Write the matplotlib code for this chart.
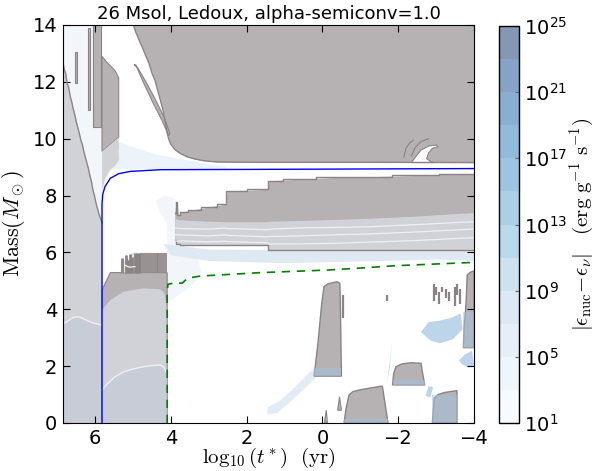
import numpy as np
import matplotlib
matplotlib.use("Agg")
import matplotlib.pyplot as plt
from matplotlib import colors as mcolors
from matplotlib.cm import ScalarMappable
from matplotlib.ticker import LogFormatterMathtext

plt.rcParams['mathtext.fontset'] = 'cm'
plt.rcParams['font.family'] = ['DejaVu Sans']

# ------------------------------------------------------------------ data
title = "26 Msol, Ledoux, alpha-semiconv=1.0"
x_ticks = [6, 4, 2, 0, -2, -4]
y_ticks = [0, 2, 4, 6, 8, 10, 12, 14]
eps_level_exp = [1, 3, 5, 7, 9, 11, 13, 15, 17, 19, 21, 23, 25]
eps_tick_exp = [1, 5, 9, 13, 17, 21, 25]

# helium core boundary (blue line)
he_core_t = [5.82, 5.82, 5.80, 5.74, 5.60, 5.38, 5.07, 4.28, 2.0, 0.0, -2.0, -4.0]
he_core_m = [0.0, 7.70, 8.05, 8.32, 8.61, 8.77, 8.85, 8.91, 8.92, 8.93, 8.94, 8.95]

# C/O core boundary (green dashed)
co_core_t = [4.10, 4.10, 4.08, 3.97, 3.70, 3.57, 3.22, 1.63, -0.13, -1.0, -1.88, -4.0]
co_core_m = [0.0, 4.60, 4.88, 4.91, 4.92, 5.09, 5.17, 5.29, 5.38, 5.45, 5.53, 5.65]

# main-sequence convective core
ms_core_t = [6.85, 6.82, 6.78, 6.74, 6.70, 6.66, 6.62, 6.58, 6.54, 6.50, 6.46, 6.42, 6.38,
             6.34, 6.30, 6.26, 6.22, 6.18, 6.14, 6.10, 6.06, 6.02, 5.98, 5.94, 5.90, 5.86, 5.82]
ms_core_top = [12.7, 12.45, 12.3, 11.95, 11.8, 11.5, 11.3, 11.05, 10.85, 10.6, 10.4, 10.2, 9.95,
               9.8, 9.55, 9.35, 9.15, 8.95, 8.7, 8.5, 8.2, 8.0, 7.75, 7.55, 7.35, 7.2, 7.05]
ms_line_t = [6.85, 6.75, 6.65, 6.55, 6.48, 6.40, 6.30, 6.20, 6.10, 6.00, 5.90, 5.82]
ms_line_m = [3.50, 3.56, 3.66, 3.72, 3.74, 3.72, 3.66, 3.60, 3.54, 3.50, 3.47, 3.45]

# thin convective streaks above the MS core: (t_left, t_right, m_bottom, m_top)
streak_t0 = [6.53, 6.20, 6.05]
streak_t1 = [6.48, 6.15, 5.85]
streak_m0 = [11.95, 11.0, 10.4]
streak_m1 = [13.05, 13.9, 14.0]

# post-MS envelope pocket
pocket_t = [5.82, 5.70, 5.55, 5.47, 5.38, 5.38, 5.82]
pocket_m = [12.9, 12.7, 12.5, 12.38, 12.14, 10.05, 9.55]
pocket_lt_t = [5.82, 5.38, 5.37, 5.36, 5.45, 5.60, 5.72, 5.82]
pocket_lt_m = [9.55, 10.05, 9.6, 9.25, 9.05, 8.9, 8.6, 8.14]

# outer convective envelope (lower boundary)
env_t = [4.99, 4.93, 4.88, 4.81, 4.75, 4.66, 4.58, 4.50, 4.42, 4.35, 4.28, 4.20,
         4.14, 4.10, 4.05, 4.00, 3.90, 3.75, 3.57, 3.35, 3.10, 2.77, 1.5, 0.0, -1.5, -4.0]
env_m = [14.0, 13.75, 13.6, 13.37, 13.2, 12.9, 12.65, 12.3, 12.05, 11.7, 11.36, 10.95,
         10.5, 10.2, 9.95, 9.8, 9.62, 9.48, 9.36, 9.28, 9.22, 9.18, 9.17, 9.17, 9.17, 9.16]
sliver_t = [4.97, 4.93, 4.70, 4.45, 4.22, 4.06, 4.03, 4.18, 4.40, 4.66, 4.88]
sliver_m = [12.6, 12.6, 11.9, 11.2, 10.6, 10.1, 10.2, 10.75, 11.35, 12.0, 12.5]
notch_t = [-2.35, -2.45, -2.6, -2.8, -3.0, -3.05, -2.9, -2.8, -2.75, -2.85, -2.95]
notch_m = [9.16, 9.35, 9.6, 9.74, 9.78, 9.72, 9.66, 9.5, 9.3, 9.2, 9.16]
arc1_t = [-2.15, -2.2, -2.3, -2.4]
arc1_m = [9.35, 9.65, 9.85, 9.95]
arc2_t = [-2.35, -2.45, -2.6, -2.8]
arc2_m = [9.4, 9.7, 9.9, 10.0]

# core helium burning convective core
heb_t = [5.82, 5.82, 5.60, 4.10, 4.10]
heb_m = [0.0, 4.68, 5.29, 5.29, 0.0]
heb_lt_t = [5.82, 5.82, 5.60, 5.25, 4.72, 4.28, 4.17, 4.12, 4.12]
heb_lt_m = [0.0, 3.97, 4.33, 4.62, 4.74, 4.70, 4.56, 4.09, 0.0]
heb_in_t = [5.82, 5.70, 5.50, 5.25, 5.00, 4.72, 4.50, 4.28, 4.18, 4.13]
heb_in_m = [1.16, 1.35, 1.60, 1.80, 1.90, 1.98, 2.02, 2.04, 1.95, 1.80]
teeth_t = [5.30, 5.27, 5.22, 5.18, 5.12, 5.06, 5.00, 4.10, 4.10, 5.30]
teeth_m = [5.55, 5.85, 5.70, 5.95, 5.75, 5.97, 5.99, 5.99, 5.29, 5.29]
tooth_pos = [4.78, 4.73, 4.68, 4.63, 4.58, 4.53, 4.48, 4.43, 4.38, 4.33, 4.28, 4.23, 4.18, 4.13]
tooth_left_t = [5.28, 5.20, 5.14, 5.08, 5.02, 4.96, 4.90, 4.84]
tooth_left_m = [5.80, 5.92, 5.72, 5.95, 5.85, 5.97, 5.99, 5.99]

# convective shell above the C/O core
shell_t = [3.90, 3.86, 3.80, 3.72, 3.40, 3.00, 2.56, 2.52, 1.46, 1.41, 0.66, -0.30, -1.19, -2.5, -3.66, -4.0]
shell_top = [7.40, 7.78, 7.30, 7.43, 7.50, 7.60, 7.70, 8.16, 8.22, 8.52, 8.57, 8.64, 8.66, 8.71, 8.76, 8.76]
shell_mid = [7.10, 7.20, 7.15, 7.15, 7.12, 7.10, 7.08, 7.08, 7.08, 7.10, 7.12, 7.16, 7.20, 7.28, 7.38, 7.40]
shell_bot = [6.45, 6.30, 6.28, 6.26, 6.26, 6.26, 6.26, 6.26, 6.26, 6.09, 6.09, 6.09, 6.09, 6.09, 6.09, 6.09]
shell_l1 = [6.85, 6.85, 6.85, 6.84, 6.83, 6.82, 6.86, 6.84, 6.80, 6.82, 6.86, 6.88, 6.90, 6.98, 7.06, 7.08]
shell_l2 = [6.62, 6.62, 6.62, 6.61, 6.60, 6.58, 6.62, 6.60, 6.55, 6.56, 6.58, 6.62, 6.65, 6.72, 6.80, 6.82]
shell_l3 = [6.40, 6.40, 6.40, 6.40, 6.39, 6.37, 6.40, 6.38, 6.34, 6.30, 6.30, 6.32, 6.36, 6.42, 6.50, 6.52]

# carbon burning region blobs
blob1_t = [0.22, 0.12, 0.02, -0.04, -0.15, -0.39, -0.46, -0.48, -0.50]
blob1_m = [1.65, 2.80, 4.20, 4.80, 4.90, 4.97, 4.91, 3.50, 1.65]
blob2_t = [-1.85, -1.88, -1.94, -2.10, -2.33, -2.60, -2.65, -2.70]
blob2_m = [1.34, 1.75, 1.98, 2.08, 2.12, 2.10, 1.70, 1.34]
blob3_t = [-0.57, -0.62, -0.70, -0.80, -0.97, -1.30, -1.58, -1.65, -1.73]
blob3_m = [0.0, 0.50, 0.98, 1.10, 1.16, 1.24, 1.30, 0.70, 0.0]
blob4_t = [-2.90, -2.93, -2.95, -3.05, -3.21, -3.55, -3.55]
blob4_m = [0.0, 0.50, 0.87, 1.00, 1.07, 1.14, 0.0]
blob5_t = [-3.72, -3.74, -3.78, -3.80, -3.82, -3.90, -4.00, -4.00]
blob5_m = [2.65, 3.40, 4.00, 4.50, 5.20, 5.30, 5.35, 2.65]
spike_t = [-0.05, -0.10, -0.13, -0.40, -0.45, -0.50]
spike_m = [0.0, 0.45, 0.0, 0.45, 0.92, 0.45]
speck_t = [-2.95, -3.0, -3.08, -3.15, -3.25, -3.35, -3.5, -3.55, -3.62, -0.55, -1.70]
speck_m0 = [4.3, 4.5, 4.2, 4.6, 4.4, 4.3, 4.1, 4.5, 4.2, 3.7, 4.3]
speck_m1 = [4.9, 4.8, 4.6, 4.8, 4.7, 4.6, 4.8, 4.9, 4.7, 4.5, 4.5]

# faint energy-generation areas
ms_env_blue_t = [6.85, 5.82, 5.82, 6.85]
ms_env_blue_m = [12.7, 7.05, 14.0, 14.0]
hshell_blue_t = [5.82, 5.50, 5.00, 4.40, 3.80, 3.20, 2.60, 2.40, 3.50, 4.50, 5.82]
hshell_blue_m = [10.2, 9.95, 9.70, 9.45, 9.30, 9.15, 9.02, 8.93, 8.93, 8.93, 8.93]
heshell_blue_t = [4.10, 4.10, 4.30, 4.40, 4.20, 3.90, 3.75, 3.60, 3.30, 3.20, 3.40, 3.80]
heshell_blue_m = [4.20, 7.00, 7.40, 7.80, 8.00, 7.90, 7.40, 6.20, 5.80, 5.30, 4.90, 4.50]
band_blue_t = [4.20, 3.00, 1.0, -1.0, -3.0, -4.0, -4.0, -3.0, -1.0, 1.0, 3.0, 4.0]
band_blue_m = [6.30, 6.10, 6.08, 6.08, 6.08, 6.08, 5.70, 5.75, 5.68, 5.62, 5.70, 5.90]
tend1_t = [1.45, 1.20, 0.80, 0.40, 0.10, -0.10, 0.00, 0.25, 0.70, 1.10, 1.45]
tend1_m = [0.30, 0.35, 0.80, 1.30, 1.70, 2.05, 2.20, 1.90, 1.30, 0.80, 0.55]
tend2_t = [-1.70, -1.78, -1.85, -1.80, -1.74]
tend2_m = [1.35, 2.00, 3.05, 2.40, 1.80]
tend3_t = [-2.60, -2.80, -3.10, -3.40, -3.65, -3.70, -3.45, -3.10, -2.85]
tend3_m = [3.20, 3.55, 3.60, 3.70, 3.85, 3.30, 2.95, 2.80, 2.90]
tend4_t = [-3.60, -3.75, -3.95, -4.0, -3.85, -3.70]
tend4_m = [2.20, 2.40, 2.55, 2.00, 1.95, 2.05]
tend5_t = [-2.72, -2.80, -2.92, -2.85]
tend5_m = [0.95, 1.30, 1.25, 0.90]

# ------------------------------------------------------------------ styles
GRAY = '#b6b1b2'
EDGE = '#8b8383'
LIGHT = '#d1d2d8'
LIGHTB = '#c8ccd6'
WLINE = '#eef0f5'
FAINT = '#f2f6fb'
BLUE1 = '#dfe9f4'
BLUE2 = '#bcd5ea'
BLUE3 = '#a3c1dc'

fig = plt.figure(figsize=(5.97, 4.71), dpi=100)
ax = fig.add_axes([63 / 597, 1 - 423 / 471, 411 / 597, 398 / 471])

# faint energy generation
ax.fill(ms_env_blue_t, ms_env_blue_m, color=FAINT, lw=0)
ax.fill(hshell_blue_t, hshell_blue_m, color='#edf3fa', lw=0)
ax.fill(heshell_blue_t, heshell_blue_m, color=FAINT, lw=0)
ax.fill(band_blue_t, band_blue_m, color=BLUE1, lw=0)
ax.fill(tend1_t, tend1_m, color='#e2ecf6', lw=0)
for tt, mm in [(tend2_t, tend2_m), (tend3_t, tend3_m), (tend4_t, tend4_m), (tend5_t, tend5_m)]:
    ax.fill(tt, mm, color=BLUE2, lw=0)

# main sequence core
ax.fill_between(ms_core_t, 0, ms_core_top, color=LIGHT, lw=0)
ax.fill_between(ms_line_t, 0, ms_line_m, color=LIGHTB, lw=0)
ax.plot(ms_line_t, ms_line_m, color=WLINE, lw=1.0)
ax.plot(ms_core_t, ms_core_top, color=EDGE, lw=1.0)

for a, b, c, d in zip(streak_t0, streak_t1, streak_m0, streak_m1):
    ax.fill([a, b, b, a], [c, c, d, d], color=GRAY, ec=EDGE, lw=0.8)

ax.fill(pocket_t, pocket_m, color=GRAY, ec=EDGE, lw=0.8)
ax.fill(pocket_lt_t, pocket_lt_m, color=LIGHT, lw=0)
ax.plot(pocket_lt_t[2:], pocket_lt_m[2:], color=WLINE, lw=0.8)

# outer envelope
ax.fill_between(env_t, env_m, 14.0, color=GRAY, lw=0)
ax.plot(env_t, env_m, color=EDGE, lw=1.0)
ax.fill(sliver_t, sliver_m, color=GRAY, ec=EDGE, lw=0.8)
ax.fill(notch_t, notch_m, color='white', ec=EDGE, lw=0.8)
ax.plot(arc1_t, arc1_m, color=EDGE, lw=0.8)
ax.plot(arc2_t, arc2_m, color=EDGE, lw=0.8)

# core He burning
ax.fill(heb_t, heb_m, color=GRAY, ec=EDGE, lw=0.8)
ax.fill(heb_lt_t, heb_lt_m, color=LIGHT, lw=0)
ax.fill_between(heb_in_t, 0, heb_in_m, color=LIGHTB, lw=0)
ax.plot(heb_in_t, heb_in_m, color=WLINE, lw=1.0)
ax.fill(teeth_t, teeth_m, color='#e4e1e1', lw=0)
ax.vlines(tooth_pos, 5.29, 5.99, color=EDGE, lw=1.2)
ax.vlines(tooth_left_t, 5.29, tooth_left_m, color=EDGE, lw=2.0)
ax.plot([5.22, 5.10, 4.95], [5.55, 5.48, 5.50], color='white', lw=0.8)

# shell
ax.fill_between(shell_t, shell_bot, shell_top, color=GRAY, lw=0)
ax.fill_between(shell_t, shell_bot, shell_mid, color=LIGHT, lw=0)
ax.plot(shell_t, shell_top, color=EDGE, lw=1.0, drawstyle='steps-mid')
ax.plot(shell_t, shell_bot, color=EDGE, lw=1.0, drawstyle='steps-mid')
for ln in (shell_l1, shell_l2, shell_l3):
    ax.plot(shell_t, ln, color=WLINE, lw=0.9)

# carbon burning blobs
for tt, mm in [(blob1_t, blob1_m), (blob2_t, blob2_m), (blob3_t, blob3_m),
               (blob4_t, blob4_m), (blob5_t, blob5_m)]:
    ax.fill(tt, mm, color=GRAY, ec=EDGE, lw=1.0)
ax.fill_between([0.22, -0.50], 1.65, 1.95, color=BLUE3, alpha=0.6, lw=0)
ax.fill_between([-1.85, -2.70], 1.34, 1.50, color=BLUE3, alpha=0.6, lw=0)
ax.fill_between([-0.57, -1.73], 0.0, 0.15, color=BLUE3, alpha=0.6, lw=0)
ax.fill_between([-2.90, -3.55], 0.0, 1.0, color=BLUE3, alpha=0.55, lw=0)
ax.fill_between([-3.72, -4.0], 2.65, 3.9, color=BLUE3, alpha=0.55, lw=0)
ax.fill(spike_t[:3], spike_m[:3], color=GRAY, ec=EDGE, lw=0.8)
ax.fill(spike_t[3:], spike_m[3:], color=GRAY, ec=EDGE, lw=0.8)
ax.vlines(speck_t, speck_m0, speck_m1, color=EDGE, lw=1.6)

# core boundaries
ax.plot(he_core_t, he_core_m, color='#0000ff', lw=1.0)
ax.plot(co_core_t, co_core_m, color='#008000', lw=1.2, dashes=(5, 4))

ax.set_xlim(6.85, -4)
ax.set_ylim(0, 14)
ax.set_xticks(x_ticks)
ax.set_yticks(y_ticks)
ax.set_xticklabels([str(v).replace('-', '\u2212') for v in x_ticks])
ax.tick_params(direction='in', top=True, right=True, length=5, labelsize=14, pad=4)
ax.set_title(title, fontsize=13, pad=4)
ax.set_xlabel(r'$\log_{10}(t^*)\ \ (\mathrm{yr})$', fontsize=15, labelpad=-1)
ax.set_ylabel(r'$\mathrm{Mass}(M_\odot)$', fontsize=16, labelpad=4)

# colorbar
base = plt.get_cmap('Blues')(np.linspace(0.04, 1.0, len(eps_level_exp) - 1))
blend = 0.5 * base[:, :3] + 0.5
cmap = mcolors.ListedColormap(blend)
norm = mcolors.LogNorm(10.0 ** eps_level_exp[0], 10.0 ** eps_level_exp[-1])
cax = fig.add_axes([499 / 597, 1 - 423 / 471, 20 / 597, 397 / 471])
cb = fig.colorbar(ScalarMappable(norm=norm, cmap=cmap), cax=cax)
cb.set_ticks([10.0 ** e for e in eps_tick_exp])
cb.ax.minorticks_off()
cb.ax.yaxis.set_major_formatter(LogFormatterMathtext())
cb.ax.tick_params(direction='in', length=3, labelsize=14, color='#666666')
cb.outline.set_linewidth(1.0)
cb.set_label(r'$|\epsilon_{\mathrm{nuc}}\!-\!\epsilon_{\nu}|\ \ \ (\mathrm{erg\ g^{-1}\ s^{-1}})$',
             fontsize=15, labelpad=0)

fig.savefig('out.png', dpi=100)
